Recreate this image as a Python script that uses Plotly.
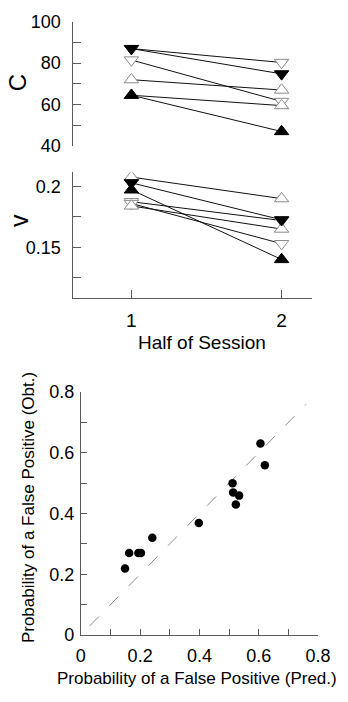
import plotly.graph_objects as go

# ---------------- data ----------------
half = [1, 2]
# C values per subject (half 1, half 2)
C_filled_down = [87, 74.8]
C_open_down_a = [87, 80.3]
C_open_down_b = [81.5, 61.5]
C_open_up_a = [72, 67]
C_open_up_b = [64.5, 59.5]
C_filled_up = [64.5, 47]

# v values per subject (half 1, half 2)
v_filled_down = [0.203, 0.1726]
v_open_down_a = [0.1875, 0.172]
v_open_down_b = [0.186, 0.153]
v_open_up_a = [0.2077, 0.190]
v_open_up_b = [0.184, 0.165]
v_filled_up = [0.1972, 0.1400]

# probability of a false positive: predicted vs obtained
fp_pred = [0.149, 0.163, 0.194, 0.203, 0.241, 0.398, 0.512, 0.514, 0.534, 0.523, 0.606, 0.621]
fp_obt = [0.219, 0.270, 0.270, 0.270, 0.320, 0.369, 0.500, 0.469, 0.459, 0.430, 0.631, 0.559]
diag = [0.03, 0.76]

W, H = 348, 702
FONT = "Liberation Sans, Arial, Helvetica, sans-serif"
AX = "#5a5a5a"
OPEN_LINE = "#8a8a8a"


def px_x(p):
    return p / W


def px_y(p):
    return 1 - p / H


fig = go.Figure()

subjects = [
    ("triangle-down", True),
    ("triangle-down", False),
    ("triangle-down", False),
    ("triangle-up", False),
    ("triangle-up", False),
    ("triangle-up", True),
]
C_series = [C_filled_down, C_open_down_a, C_open_down_b, C_open_up_a, C_open_up_b, C_filled_up]
v_series = [v_filled_down, v_open_down_a, v_open_down_b, v_open_up_a, v_open_up_b, v_filled_up]

for ser, ax in [(C_series, ("x", "y")), (v_series, ("x2", "y2"))]:
    for vals in ser:
        fig.add_trace(go.Scatter(x=half, y=vals, mode="lines", xaxis=ax[0], yaxis=ax[1],
                                 line=dict(color="#111111", width=1), showlegend=False,
                                 hoverinfo="skip"))
    order = [i for i in range(6) if not subjects[i][1]] + [i for i in range(6) if subjects[i][1]]
    for i in order:
        sym, filled = subjects[i]
        fig.add_trace(go.Scatter(
            x=half, y=ser[i], mode="markers", xaxis=ax[0], yaxis=ax[1], showlegend=False,
            marker=dict(symbol=sym, size=12.5,
                        color="black" if filled else "white",
                        line=dict(color="black" if filled else OPEN_LINE, width=1))))

fig.add_trace(go.Scatter(x=diag, y=diag, mode="lines", xaxis="x3", yaxis="y3",
                         line=dict(color="#8c8c8c", width=1, dash="13px,15px"),
                         showlegend=False, hoverinfo="skip"))
fig.add_trace(go.Scatter(x=fp_pred, y=fp_obt, mode="markers", xaxis="x3", yaxis="y3",
                         marker=dict(color="black", size=8.5), showlegend=False))

xr = [0.613, 2.204]
tickfont = dict(family=FONT, size=18, color="black")

fig.update_layout(
    width=W, height=H, margin=dict(l=0, r=0, t=0, b=0),
    paper_bgcolor="white", plot_bgcolor="white",
    font=dict(family=FONT, color="black"),
    xaxis=dict(domain=[px_x(72), px_x(324)], range=xr, anchor="y", showline=False,
               showticklabels=False, ticks="", showgrid=False, zeroline=False),
    yaxis=dict(domain=[px_y(140), px_y(12)], range=[40, 100], anchor="x",
               showline=True, linecolor=AX, linewidth=1, ticks="inside", ticklen=8,
               tickcolor=AX, tickvals=[40, 60, 80, 100], tickfont=tickfont,
               minor=dict(ticks="inside", ticklen=8, tickcolor=AX, tickvals=[50, 70, 90]),
               showgrid=False, zeroline=False, ticklabelstandoff=8),
    xaxis2=dict(domain=[px_x(72), px_x(324)], range=xr, anchor="y2",
                showline=True, linecolor=AX, linewidth=1, ticks="inside", ticklen=8,
                tickcolor=AX, tickvals=[1, 2], tickfont=dict(family=FONT, size=19, color="black"),
                showgrid=False, zeroline=False, ticklabelstandoff=6),
    yaxis2=dict(domain=[px_y(296), px_y(167)], range=[0.1087, 0.2117], anchor="x2",
                showline=True, linecolor=AX, linewidth=1, ticks="inside", ticklen=8,
                tickcolor=AX, tickvals=[0.15, 0.2], ticktext=["0.15", "0.2"], tickfont=tickfont,
                minor=dict(ticks="inside", ticklen=8, tickcolor=AX, tickvals=[0.125, 0.175]),
                showgrid=False, zeroline=False, ticklabelstandoff=8),
    xaxis3=dict(domain=[px_x(80), px_x(330)], range=[0, 0.8], anchor="y3",
                showline=True, linecolor=AX, linewidth=1, ticks="inside", ticklen=6,
                tickcolor=AX, tickvals=[0, 0.2, 0.4, 0.6, 0.8], ticktext=["0", "0.2", "0.4", "0.6", "0.8"],
                tickfont=tickfont,
                minor=dict(ticks="inside", ticklen=6, tickcolor=AX, tickvals=[0.1, 0.3, 0.5, 0.7]),
                showgrid=False, zeroline=False, ticklabelstandoff=4),
    yaxis3=dict(domain=[px_y(643.3), px_y(393.3)], range=[0, 0.8], anchor="x3",
                showline=True, linecolor=AX, linewidth=1, ticks="inside", ticklen=6,
                tickcolor=AX, tickvals=[0, 0.2, 0.4, 0.6, 0.8], ticktext=["0", "0.2", "0.4", "0.6", "0.8"],
                tickfont=tickfont,
                minor=dict(ticks="inside", ticklen=6, tickcolor=AX, tickvals=[0.1, 0.3, 0.5, 0.7]),
                showgrid=False, zeroline=False, ticklabelstandoff=2),
)

annots = [
    dict(text="C", x=px_x(14), y=px_y(75), textangle=-90, font=dict(family=FONT, size=24)),
    dict(text="v", x=px_x(15), y=px_y(217), textangle=-90, font=dict(family=FONT, size=25)),
    dict(text="Half of Session", x=px_x(207.5), y=px_y(342.7), font=dict(family=FONT, size=19)),
    dict(text="Probability of a False Positive (Pred.)", x=px_x(202), y=px_y(688),
         font=dict(family=FONT, size=17)),
    dict(text="Probability of a False Positive (Obt.)", x=px_x(25.5), y=px_y(512.5), textangle=-90,
         font=dict(family=FONT, size=17)),
]
for a in annots:
    fig.add_annotation(xref="paper", yref="paper", showarrow=False, xanchor="center",
                       yanchor="middle", **a)

fig.write_html("out.html", config={"displayModeBar": False},
               post_script="document.body.style.margin='0';document.body.style.overflow='hidden';")
